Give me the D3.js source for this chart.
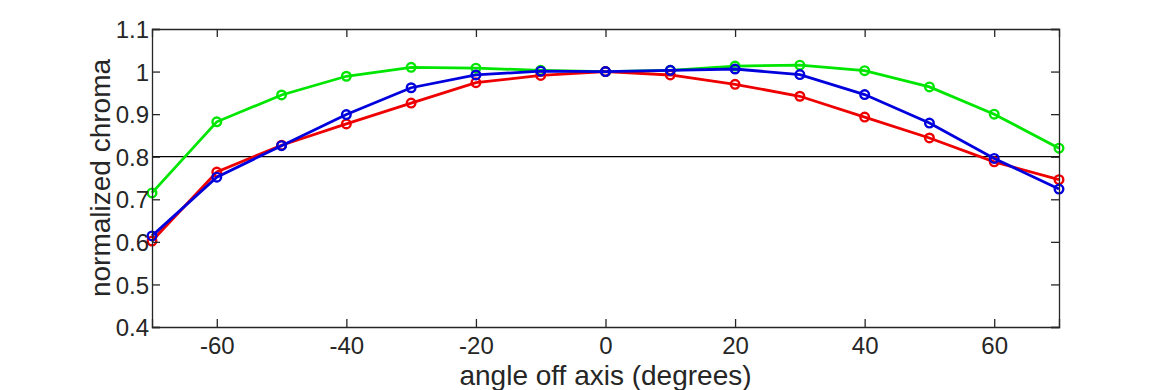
<!DOCTYPE html>
<html><head><meta charset="utf-8">
<script src="https://cdn.jsdelivr.net/npm/d3@7"></script>
<style>body{margin:0;background:#fff}svg{display:block}text{font-family:"Liberation Sans",Arial,sans-serif}</style>
</head><body><svg id="c" width="1170" height="390"></svg>
<script>
const angles = [-70,-60,-50,-40,-30,-20,-10,0,10,20,30,40,50,60,70];
const green = [0.715,0.882,0.945,0.989,1.010,1.008,1.003,1.000,1.003,1.013,1.015,1.002,0.964,0.900,0.820];
const red   = [0.602,0.764,0.827,0.877,0.926,0.974,0.991,1.000,0.992,0.970,0.942,0.893,0.844,0.788,0.746];
const blue  = [0.614,0.752,0.826,0.899,0.962,0.992,1.001,1.000,1.003,1.006,0.993,0.946,0.879,0.796,0.724];
const xTicks = [-60,-40,-20,0,20,40,60];
const yTicks = [0.4,0.5,0.6,0.7,0.8,0.9,1,1.1];
const refLine = 0.8;
const series = [{name:"green",values:green,color:"#00e600"},{name:"red",values:red,color:"#ee0000"},{name:"blue",values:blue,color:"#0000dd"}];

const svg = d3.select("#c");
const L=152, R=1059, T=29, B=327;
const x = d3.scaleLinear().domain([-70,70]).range([L,R]);
const y = d3.scaleLinear().domain([0.4,1.1]).range([B,T]);
const axisColor="#262626";

svg.append("line").attr("x1",x(-70)).attr("x2",x(70)).attr("y1",y(refLine)).attr("y2",y(refLine))
  .attr("stroke","#000").attr("stroke-width",1.2);

const line = d3.line().x((d,i)=>x(angles[i])).y(d=>y(d));
series.forEach(s=>{
  svg.append("path").datum(s.values).attr("d",line).attr("fill","none").attr("stroke",s.color).attr("stroke-width",2.8);
  svg.selectAll(null).data(s.values).enter().append("circle")
    .attr("cx",(d,i)=>x(angles[i])).attr("cy",d=>y(d)).attr("r",4.3)
    .attr("fill","none").attr("stroke",s.color).attr("stroke-width",2.4);
});

const fs = 24;
const gB = svg.append("g").attr("transform",`translate(0,${B})`)
  .call(d3.axisBottom(x).tickValues(xTicks).tickSize(-8).tickPadding(10).tickFormat(d=>String(d)));
const gT = svg.append("g").attr("transform",`translate(0,${T})`)
  .call(d3.axisTop(x).tickValues(xTicks).tickSize(-8).tickFormat(""));
const gL = svg.append("g").attr("transform",`translate(${L},0)`)
  .call(d3.axisLeft(y).tickValues(yTicks).tickSize(-8).tickPadding(3).tickFormat(d=>String(+d.toFixed(1))));
const gR = svg.append("g").attr("transform",`translate(${R},0)`)
  .call(d3.axisRight(y).tickValues(yTicks).tickSize(-8).tickFormat(""));
[gB,gT,gL,gR].forEach(g=>{
  g.select(".domain").attr("stroke",axisColor).attr("stroke-width",1.3);
  g.selectAll(".tick line").attr("stroke",axisColor).attr("stroke-width",1.3);
  g.selectAll("text").attr("fill","#262626").style("font-size",fs+"px").attr("font-family",null);
});
gB.selectAll("text").attr("dy","0.71em");
gL.selectAll("text").attr("dy","0.36em");

svg.append("text").attr("x",(L+R)/2).attr("y",385).attr("text-anchor","middle")
  .attr("fill","#262626").style("font-size","28px").text("angle off axis (degrees)");
svg.append("text").attr("transform",`translate(110,${(T+B)/2}) rotate(-90)`).attr("text-anchor","middle")
  .attr("fill","#262626").style("font-size","28px").text("normalized chroma");
</script></body></html>
